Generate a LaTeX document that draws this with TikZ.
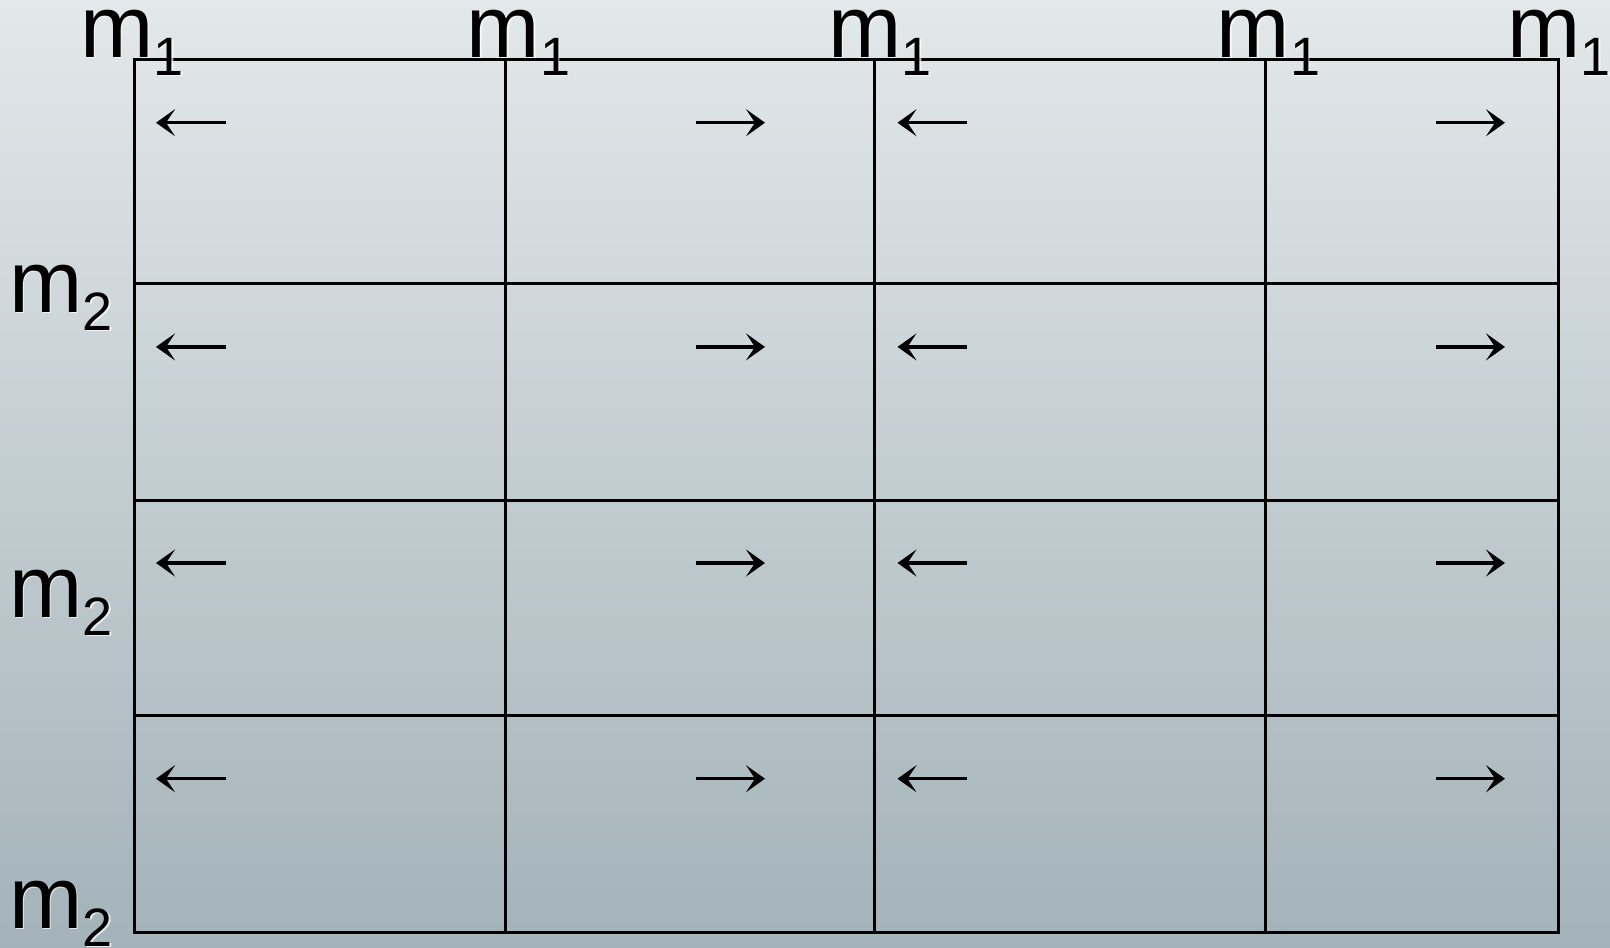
\documentclass[tikz,border=0pt]{standalone}
\usepackage{fontspec}
\setmainfont{Liberation Sans}
\usetikzlibrary{arrows.meta}
\newcommand\mlab[1]{m\raisebox{-18pt}{\fontsize{54}{54}\selectfont #1}}
\begin{document}
\begin{tikzpicture}[x=1pt,y=-1pt,
  gridline/.style={line width=3pt,black},
  lab/.style={anchor=base west,inner sep=0pt,font=\fontsize{88}{88}\selectfont},
  glow/.style={lab,text=white,opacity=0.7},
  cellarrow/.style={line width=3.4pt,black,-{Stealth[length=19pt,width=27pt,inset=9pt]}}]
\definecolor{bgtop}{RGB}{227,232,234}
\definecolor{bgbot}{RGB}{163,179,185}
\shade[top color=bgtop,bottom color=bgbot] (0,0) rectangle (1610,948);
\useasboundingbox (0,0) rectangle (1610,948);
% grid
\draw[gridline] (134.5,59.6) rectangle (1558.7,932.3);
\foreach \x in {505.2,874.8,1265} \draw[gridline] (\x,59.6) -- (\x,932.3);
\foreach \y in {283.4,500,715.7} \draw[gridline] (134.5,\y) -- (1558.7,\y);
% top labels
\foreach \x [count=\i] in {86,472.6,834,1222.7,1513}{
  \node[glow] (tg\i) at (\x-4.5,58.5) {\mlab{1}};
  \node[lab] (t\i) at (\x-6,57) {\mlab{1}};
}
% left labels
\foreach \y [count=\i] in {312,617,928}{
  \node[glow] (lg\i) at (15-4.5,\y+1.5) {\mlab{2}};
  \node[lab] (l\i) at (15-6,\y) {\mlab{2}};
}
% arrows
\foreach \y [count=\r] in {122.7,346.9,563,778.7}{
  \coordinate (p\r1) at (226,\y);  \coordinate (q\r1) at (156,\y);
  \coordinate (p\r2) at (695.7,\y);\coordinate (q\r2) at (765,\y);
  \coordinate (p\r3) at (967,\y);  \coordinate (q\r3) at (897.5,\y);
  \coordinate (p\r4) at (1436,\y); \coordinate (q\r4) at (1505,\y);
  \foreach \c in {1,2,3,4} \draw[cellarrow] (p\r\c) -- (q\r\c);
}
\end{tikzpicture}
\end{document}
